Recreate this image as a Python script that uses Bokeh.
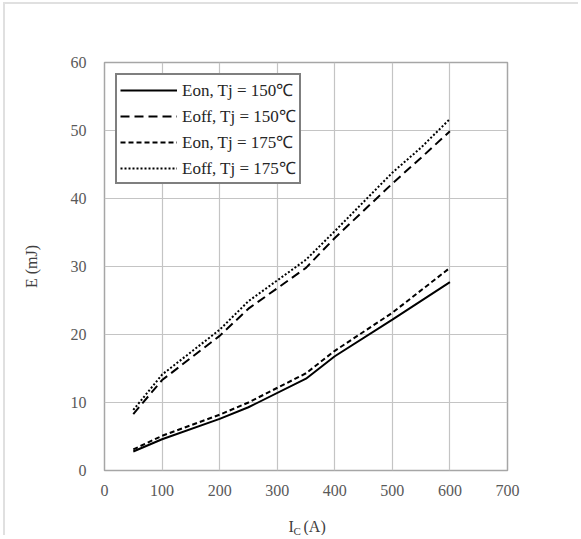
from bokeh.plotting import figure
from bokeh.layouts import column
from bokeh.models import Range1d, FixedTicker, Legend, LegendItem
from bokeh.core.properties import value
from bokeh.embed import file_html
from bokeh.resources import INLINE

# ---- data ----
ic_on = [50, 100, 200, 250, 350, 400, 500, 600]
eon_150 = [2.8, 4.6, 7.6, 9.3, 13.5, 16.8, 22.2, 27.7]
eon_175 = [3.1, 5.1, 8.2, 10.0, 14.3, 17.6, 23.2, 29.8]

ic_off = [50, 100, 200, 250, 350, 400, 500, 550, 600]
eoff_150 = [8.3, 13.3, 19.8, 23.8, 29.8, 34.2, 42.2, 46.0, 49.9]
eoff_175 = [8.9, 14.1, 20.7, 24.9, 31.0, 35.2, 43.8, 47.5, 51.7]

x_ticks = [0, 100, 200, 300, 400, 500, 600, 700]
y_ticks = [0, 10, 20, 30, 40, 50, 60]
legend_labels = ["Eon, Tj = 150\u2103", "Eoff, Tj = 150\u2103",
                 "Eon, Tj = 175\u2103", "Eoff, Tj = 175\u2103"]
x_title_main = ["I", "(A)"]
x_title_sub = ["C"]

SERIF = "Liberation Serif"
W = 575

# canvas starts at page (5, 4); frame spans page x 104..507, y 62..470
p = figure(width=W, height=504, output_backend="svg", toolbar_location=None,
           x_range=Range1d(0, 700), y_range=Range1d(0, 60),
           min_border_left=99, min_border_right=73, min_border_top=58, min_border_bottom=38)

p.outline_line_color = "#a6a6a6"
p.outline_line_width = 1.5
p.background_fill_color = "white"
p.border_fill_color = "white"

p.xaxis.ticker = FixedTicker(ticks=x_ticks)
p.yaxis.ticker = FixedTicker(ticks=y_ticks)
for ax in (p.xaxis[0], p.yaxis[0]):
    ax.axis_line_color = None
    ax.major_tick_line_color = None
    ax.minor_tick_line_color = None
    ax.major_label_text_font = SERIF
    ax.major_label_text_font_size = "16px"
    ax.major_label_text_color = "#595959"
    ax.major_label_standoff = 12
p.xaxis.major_label_standoff = 8

p.yaxis.axis_label = "E (mJ)"
p.yaxis.axis_label_text_font = SERIF
p.yaxis.axis_label_text_font_size = "16px"
p.yaxis.axis_label_text_font_style = "normal"
p.yaxis.axis_label_text_color = "#404040"
p.yaxis.axis_label_standoff = 28

p.xgrid.grid_line_color = "#c4c4c4"
p.ygrid.grid_line_color = "#c4c4c4"
p.xgrid.grid_line_width = 1.2
p.ygrid.grid_line_width = 1.2

r1 = p.line(ic_on, eon_150, line_color="black", line_width=2)
r2 = p.line(ic_off, eoff_150, line_color="black", line_width=2, line_dash="9 5")
r3 = p.line(ic_on, eon_175, line_color="black", line_width=2, line_dash="5 3")
r4 = p.line(ic_off, eoff_175, line_color="black", line_width=2, line_dash="2 2")

legend = Legend(items=[LegendItem(label=legend_labels[0], renderers=[r1]),
                       LegendItem(label=legend_labels[1], renderers=[r2]),
                       LegendItem(label=legend_labels[2], renderers=[r3]),
                       LegendItem(label=legend_labels[3], renderers=[r4])],
                location="top_left")
legend.margin = 11
legend.padding = 3
legend.spacing = 3
legend.label_height = 20
legend.glyph_height = 20
legend.glyph_width = 57
legend.label_standoff = 5
legend.label_text_font = SERIF
legend.label_text_font_size = "17px"
legend.label_text_color = "#262626"
legend.border_line_color = "black"
legend.border_line_width = 2
legend.background_fill_alpha = 1
p.add_layout(legend)

p.styles = {"border-left": "2px solid #e0e0e0", "border-top": "2px solid #e0e0e0",
            "margin-left": "3px", "margin-top": "2px"}

# ---- x axis title strip "I_C (A)" (page y 508..537), same horizontal frame as p ----
H2 = 29
t = figure(width=W, height=H2, output_backend="svg", toolbar_location=None,
           x_range=Range1d(0, 700), y_range=Range1d(0, H2),
           min_border_left=99, min_border_right=73, min_border_top=0, min_border_bottom=0)
t.xaxis.visible = False
t.yaxis.visible = False
t.grid.visible = False
t.outline_line_color = None
t.border_fill_color = "white"
t.styles = {"border-left": "2px solid #e0e0e0", "margin-left": "3px"}

def px_x(px):
    return (px - 104) / 403 * 700

def px_y(py):
    return 537 - py

t.text(x=[px_x(288), px_x(303)], y=[px_y(528), px_y(528)], text=x_title_main,
       text_font=value(SERIF), text_font_size="16px", text_color="#404040",
       text_baseline="alphabetic", text_align="left")
t.text(x=[px_x(293)], y=[px_y(532)], text=x_title_sub,
       text_font=value(SERIF), text_font_size="11px", text_color="#404040",
       text_baseline="alphabetic", text_align="left")

layout = column(p, t, spacing=0)
open("out.html", "w").write(file_html(layout, INLINE))
